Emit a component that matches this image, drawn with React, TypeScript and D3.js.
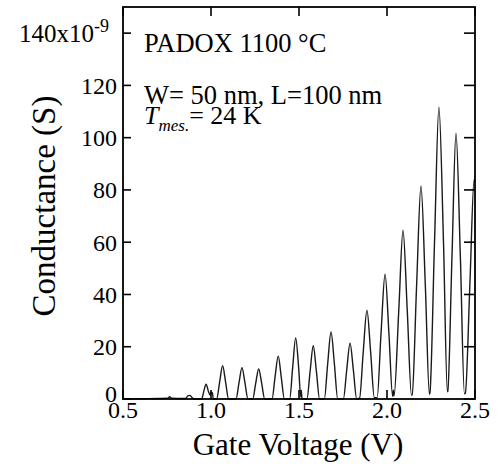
import React, { useEffect, useRef } from 'react';
import * as d3 from 'd3';

// Conductance trace: [gate voltage (V), conductance (nS)]
const lowGateTrace: [number, number][] = [
    [0.5, 0], [0.6, 0.1], [0.7, 0.2], [0.755, 0.3], [0.765, 0.9], [0.775, 0.3],
    [0.85, 0.2], [0.858, 0.3], [0.868, 1.2], [0.88, 1.4], [0.892, 0.6], [0.9, 0.1], [0.947, 0],
    [0.96, 3.2], [0.972, 5.7], [0.985, 3], [0.995, 1.5], [1.002, 2.6], [1.008, 2.3], [1.013, 0],
    [1.032, 0], [1.049, 6.5], [1.066, 12.7], [1.083, 6.5], [1.1, 0],
    [1.142, 0], [1.159, 6.2], [1.176, 12], [1.193, 6.2], [1.21, 0],
    [1.237, 0], [1.254, 6], [1.271, 11.5], [1.288, 6], [1.305, 0],
    [1.347, 0], [1.364, 8.5], [1.382, 16.4], [1.399, 8.5], [1.417, 0],
    [1.447, 0], [1.464, 12], [1.481, 23.4], [1.498, 12], [1.51, 0.8], [1.513, 3.4], [1.517, 0]
];

const highGateTrace: [number, number][] = [
    [1.545, 0], [1.563, 10.5], [1.581, 20.4], [1.599, 10.5], [1.617, 0],
    [1.644, 0], [1.663, 13.5], [1.682, 25.7], [1.701, 13.5], [1.72, 0],
    [1.752, 0], [1.771, 11], [1.79, 21.4], [1.809, 11], [1.828, 0],
    [1.844, 0.3], [1.865, 18], [1.886, 34], [1.907, 18], [1.928, 0.5],
    [1.944, 0.5], [1.966, 25], [1.989, 47.8], [2.011, 25], [2.032, 1], [2.036, 3.4], [2.04, 1.2],
    [2.067, 34], [2.091, 64.6], [2.115, 34], [2.139, 1.5],
    [2.143, 1.6], [2.168, 43], [2.193, 81.5], [2.218, 43], [2.241, 1.8],
    [2.244, 2.4], [2.27, 60], [2.295, 111.7], [2.321, 60], [2.343, 2.8],
    [2.345, 2.9], [2.369, 54], [2.392, 101.7], [2.417, 54], [2.44, 2],
    [2.445, 2.2], [2.471, 44], [2.495, 84], [2.5, 83]
];

const xTicks = [0.5, 1.0, 1.5, 2.0, 2.5];
const xTickLabels = ['0.5', '1.0', '1.5', '2.0', '2.5'];
const yTicks = [0, 20, 40, 60, 80, 100, 120, 140];
const yTickLabels = ['0', '20', '40', '60', '80', '100', '120', '140x10'];

const FONT = "'Liberation Serif', 'DejaVu Serif', serif";

const App = () => {
    const svgRef = useRef<SVGSVGElement>(null);

    useEffect(() => {
        const svg = d3.select(svgRef.current);
        svg.selectAll('*').remove();

        const left = 123, right = 475, top = 7, bottom = 399;

        const x = d3.scaleLinear().domain([0.5, 2.5]).range([left, right]);
        const y = d3.scaleLinear().domain([0, 150]).range([bottom, top]);

        const g = svg.append('g');

        const label = (sx: number, sy: number, size: number, anchor = 'start') =>
            g.append('text')
                .attr('x', sx).attr('y', sy)
                .attr('text-anchor', anchor)
                .style('font-family', FONT)
                .style('font-size', size + 'px')
                .attr('fill', '#000');

        // trace
        const line = d3.line<[number, number]>()
            .x(d => x(d[0]))
            .y(d => y(d[1]))
            .curve(d3.curveMonotoneX);

        g.append('path')
            .datum(lowGateTrace.concat(highGateTrace))
            .attr('d', line)
            .attr('fill', 'none')
            .attr('stroke', '#1a1a1a')
            .attr('stroke-width', 1.4)
            .attr('stroke-linejoin', 'round');

        // frame
        g.append('rect')
            .attr('x', left).attr('y', top)
            .attr('width', right - left).attr('height', bottom - top)
            .attr('fill', 'none')
            .attr('stroke', '#000')
            .attr('stroke-width', 1.8);

        // inward ticks on all four sides
        yTicks.forEach(t => {
            g.append('line').attr('x1', left).attr('x2', left + 8)
                .attr('y1', y(t)).attr('y2', y(t)).attr('stroke', '#000').attr('stroke-width', 1.6);
            g.append('line').attr('x1', right).attr('x2', right - 11)
                .attr('y1', y(t)).attr('y2', y(t)).attr('stroke', '#000').attr('stroke-width', 1.6);
        });
        xTicks.forEach(t => {
            g.append('line').attr('x1', x(t)).attr('x2', x(t))
                .attr('y1', top).attr('y2', top + 9).attr('stroke', '#000').attr('stroke-width', 1.6);
            g.append('line').attr('x1', x(t)).attr('x2', x(t))
                .attr('y1', bottom).attr('y2', bottom - 9).attr('stroke', '#000').attr('stroke-width', 1.6);
        });

        // y tick labels
        yTicks.forEach((t, i) => {
            const last = i === yTicks.length - 1;
            const txt = label(last ? 109 : 117, y(t) + (t === 0 ? -5 : 0), last ? 25 : 24, 'end')
                .attr('dy', '0.35em')
                .text(yTickLabels[i]);
            if (last) {
                txt.append('tspan').attr('dy', -10).style('font-size', '18px').text('-9');
            }
        });

        // x tick labels
        xTicks.forEach((t, i) => {
            label(x(t), 418, 24, 'middle').text(xTickLabels[i]);
        });

        // axis titles
        label(298, 455, 31, 'middle').text('Gate Voltage (V)');
        label(0, 0, 33, 'middle')
            .attr('transform', 'translate(55,206) rotate(-90)')
            .text('Conductance (S)');

        // annotations
        label(144, 52, 26.5).text('PADOX 1100 °C');
        label(144, 104, 26.5).text('W= 50 nm, L=100 nm');
        const tm = label(144, 124, 26);
        tm.append('tspan').style('font-style', 'italic').text('T');
        tm.append('tspan').style('font-style', 'italic').style('font-size', '17px').attr('dy', 7).text('mes.');
        tm.append('tspan').attr('dy', -7).text('= 24 K');
    }, []);

    return (
        <svg
            ref={svgRef}
            width={498}
            height={475}
            style={{ position: 'absolute', left: 0, top: 0, background: '#fff' }}
        />
    );
};

export default App;
